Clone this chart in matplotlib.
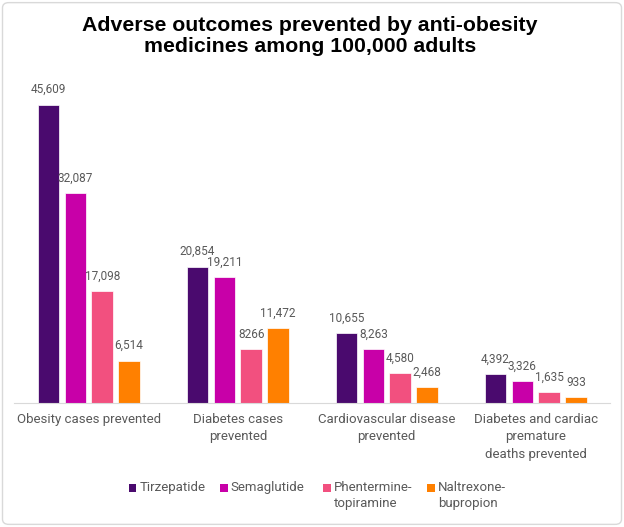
import numpy as np
import matplotlib
matplotlib.use("Agg")
import matplotlib.pyplot as plt
from matplotlib.patches import FancyBboxPatch, Rectangle

categories = ["Obesity cases prevented", "Diabetes cases\nprevented",
              "Cardiovascular disease\nprevented",
              "Diabetes and cardiac\npremature\ndeaths prevented"]
series_names = ["Tirzepatide", "Semaglutide", "Phentermine-\ntopiramine", "Naltrexone-\nbupropion"]
tirzepatide = [45609, 20854, 10655, 4392]
semaglutide = [32087, 19211, 8263, 3326]
phentermine = [17098, 8266, 4580, 1635]
naltrexone = [6514, 11472, 2468, 933]
value_labels = [
    ["45,609", "20,854", "10,655", "4,392"],
    ["32,087", "19,211", "8,263", "3,326"],
    ["17,098", "8266", "4,580", "1,635"],
    ["6,514", "11,472", "2,468", "933"],
]
colors = ["#4A0A6E", "#C800A8", "#F2507F", "#FF8000"]

series = [tirzepatide, semaglutide, phentermine, naltrexone]
txt_font = "Roboto"

fig = plt.figure(figsize=(6.24, 5.27), dpi=100)
ax = fig.add_axes([0.023, 0.235, 0.955, 0.621])

x = np.arange(len(categories))
offsets = [-0.27, -0.09, 0.09, 0.27]
for i, vals in enumerate(series):
    ax.bar(x + offsets[i], vals, width=0.145, color=colors[i],
           edgecolor="white", linewidth=0.5)
    for xi, v, lab in zip(x + offsets[i], vals, value_labels[i]):
        ax.text(xi, v + 1300, lab, ha="center", va="bottom", fontsize=8.5,
                color="#595959", family=txt_font)

ax.set_xlim(-0.5, 3.5)
ax.set_ylim(0, 50000)
ax.set_yticks([])
ax.set_xticks(x)
ax.set_xticklabels(categories, fontsize=9.5, color="#595959", family=txt_font,
                   linespacing=1.45)
ax.tick_params(axis="x", length=0, pad=7)
for s in ["top", "right", "left"]:
    ax.spines[s].set_visible(False)
ax.spines["bottom"].set_color("#D9D9D9")

fig.text(0.497, 0.931, "Adverse outcomes prevented by anti-obesity\nmedicines among 100,000 adults",
         ha="center", va="center", fontsize=15.3, fontweight="bold",
         family="Liberation Sans", linespacing=1.12)

# legend drawn by hand so the squares line up with the first text line
leg_x = [0.206, 0.353, 0.518, 0.685]
for lx, name, c in zip(leg_x, series_names, colors):
    fig.patches.append(Rectangle((lx, 0.067), 0.0125, 0.015, transform=fig.transFigure,
                                 facecolor=c, edgecolor="none"))
    fig.text(lx + 0.017, 0.087, name, ha="left", va="top", fontsize=9.5,
             color="#595959", family=txt_font, linespacing=1.3)

border = FancyBboxPatch((0.004, 0.005), 0.992, 0.99, boxstyle="round,pad=0,rounding_size=0.01",
                        transform=fig.transFigure, fill=False, edgecolor="#D9D9D9", linewidth=1)
fig.patches.append(border)

fig.savefig("out.png", dpi=100)
